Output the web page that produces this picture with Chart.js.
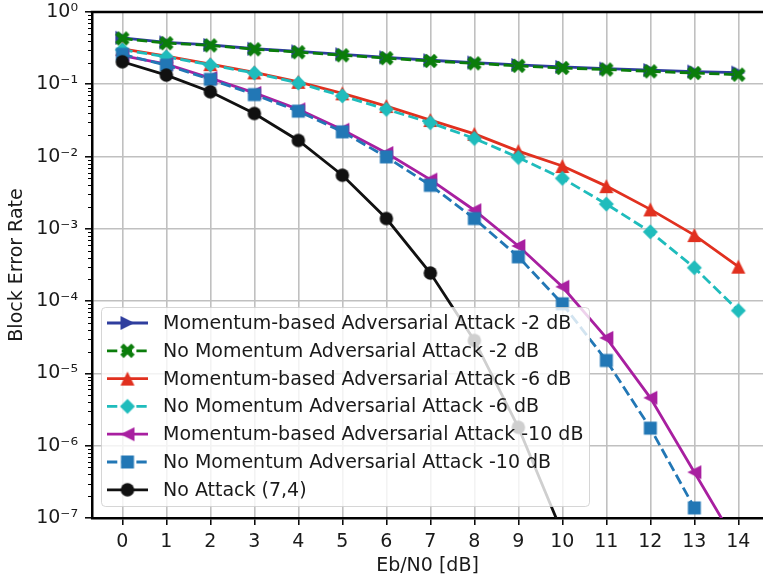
<!DOCTYPE html>
<html>
<head>
<meta charset="utf-8">
<script src="https://cdn.jsdelivr.net/npm/chart.js@4.4.1/dist/chart.umd.min.js"></script>
<style>
  html, body { margin: 0; padding: 0; background: #fff; }
  #wrap { width: 763px; height: 577px; }
</style>
</head>
<body>
<div id="wrap"><canvas id="berChart" width="763" height="577"></canvas></div>
<script>
// Eb/N0 values (dB)
const snrDb = [0, 1, 2, 3, 4, 5, 6, 7, 8, 9, 10, 11, 12, 13, 14];

// Block error rates
const momentum2dB = [0.44, 0.38, 0.35, 0.31, 0.285, 0.26, 0.236, 0.215, 0.2, 0.185, 0.174, 0.165, 0.157, 0.15, 0.145];
const noMomentum2dB = [0.43, 0.37, 0.345, 0.305, 0.278, 0.252, 0.23, 0.21, 0.195, 0.18, 0.168, 0.16, 0.151, 0.143, 0.136];
const momentum6dB = [0.31, 0.245, 0.19, 0.146, 0.108, 0.075, 0.05, 0.032, 0.0206, 0.0119, 0.0074, 0.0039, 0.00186, 0.00082, 0.0003];
const noMomentum6dB = [0.30, 0.24, 0.185, 0.143, 0.104, 0.069, 0.045, 0.0294, 0.0178, 0.0097, 0.005, 0.0022, 0.00091, 0.00029, 0.000074];
const momentum10dB = [0.25, 0.19, 0.122, 0.076, 0.045, 0.0235, 0.0112, 0.0048, 0.00181, 0.00058, 0.000158, 0.000031, 0.0000046, 0.00000043, 0.00000004];
const noMomentum10dB = [0.26, 0.184, 0.117, 0.072, 0.0425, 0.022, 0.0099, 0.004, 0.00139, 0.00041, 0.000092, 0.0000151, 0.00000175, 0.000000138, null];
const noAttack = [0.205, 0.134, 0.0787, 0.0395, 0.0167, 0.00552, 0.00139, 0.000245, 0.0000286, 0.0000018, 0.000000062, null, null, null, null];

const seriesLabels = [
    'Momentum-based Adversarial Attack -2 dB',
    'No Momentum Adversarial Attack -2 dB',
    'Momentum-based Adversarial Attack -6 dB',
    'No Momentum Adversarial Attack -6 dB',
    'Momentum-based Adversarial Attack -10 dB',
    'No Momentum Adversarial Attack -10 dB',
    'No Attack (7,4)'
];

// y tick exponents (10^0 ... 10^-7)
const yExponents = [0, -1, -2, -3, -4, -5, -6, -7];

const FONT = 'DejaVu Sans';
const FONT_SIZE = 19;
const TEXT = '#1a1a1a';
const SUP = { '0': '\u2070', '1': '\u00b9', '2': '\u00b2', '3': '\u00b3', '4': '\u2074', '5': '\u2075', '6': '\u2076', '7': '\u2077', '-': '\u207b' };

// build marker images like matplotlib's filled markers
function makeMarker(shape, color, size) {
    const c = document.createElement('canvas');
    c.width = 20;
    c.height = 20;
    const ctx = c.getContext('2d');
    ctx.translate(10, 10);
    ctx.fillStyle = color;
    ctx.beginPath();
    const h = size / 2;
    if (shape === 'circle') {
        ctx.arc(0, 0, h, 0, Math.PI * 2);
    } else if (shape === 'square') {
        ctx.rect(-h, -h, size, size);
    } else if (shape === 'diamond') {
        ctx.moveTo(0, -h); ctx.lineTo(h, 0); ctx.lineTo(0, h); ctx.lineTo(-h, 0);
    } else if (shape === 'up') {
        ctx.moveTo(0, -h); ctx.lineTo(h, h); ctx.lineTo(-h, h);
    } else if (shape === 'right') {
        ctx.moveTo(h, 0); ctx.lineTo(-h, -h); ctx.lineTo(-h, h);
    } else if (shape === 'left') {
        ctx.moveTo(-h, 0); ctx.lineTo(h, -h); ctx.lineTo(h, h);
    } else if (shape === 'x') {
        const a = 2.4, L = 7.8;
        const pts = [[a, L], [a, a], [L, a], [L, -a], [a, -a], [a, -L], [-a, -L], [-a, -a], [-L, -a], [-L, a], [-a, a], [-a, L]];
        const k = Math.SQRT1_2;
        pts.forEach(function(p, i) {
            const x = (p[0] - p[1]) * k, y = (p[0] + p[1]) * k;
            if (i === 0) ctx.moveTo(x, y); else ctx.lineTo(x, y);
        });
    }
    ctx.closePath();
    ctx.fill();
    return c;
}

const styles = [
    { color: '#2f3e9e', marker: makeMarker('right', '#2f3e9e', 14), dashed: false },
    { color: '#0b7d0b', marker: makeMarker('x', '#0b7d0b', 15), dashed: true },
    { color: '#e1301f', marker: makeMarker('up', '#e1301f', 14), dashed: false },
    { color: '#1fbcbc', marker: makeMarker('diamond', '#1fbcbc', 15), dashed: true },
    { color: '#a81fa0', marker: makeMarker('left', '#a81fa0', 14), dashed: false },
    { color: '#2277b5', marker: makeMarker('square', '#2277b5', 13), dashed: true },
    { color: '#111111', marker: makeMarker('circle', '#111111', 13.5), dashed: false }
];

const allSeries = [momentum2dB, noMomentum2dB, momentum6dB, noMomentum6dB, momentum10dB, noMomentum10dB, noAttack];

const datasets = allSeries.map(function(values, i) {
    const s = styles[i];
    return {
        label: seriesLabels[i],
        data: snrDb.map(function(x, j) { return { x: x, y: values[j] }; }),
        borderColor: s.color,
        backgroundColor: s.color,
        borderWidth: 2.8,
        borderDash: s.dashed ? [10.3, 4.4] : [],
        pointStyle: s.marker,
        pointRadius: 7,
        pointHoverRadius: 7,
        tension: 0,
        spanGaps: false,
        order: allSeries.length - i
    };
});

// top spine, minor y ticks and a matplotlib-like legend drawn over the lines
const overlayPlugin = {
    id: 'overlay',
    afterDatasetsDraw(chart) {
        const ctx = chart.ctx;
        const area = chart.chartArea;
        const yScale = chart.scales.y;

        ctx.save();
        ctx.strokeStyle = '#000';
        ctx.lineWidth = 2.5;
        ctx.beginPath();
        ctx.moveTo(area.left - 1.25, area.top);
        ctx.lineTo(area.right, area.top);
        ctx.stroke();

        // minor ticks
        ctx.lineWidth = 1.2;
        ctx.beginPath();
        for (let e = -7; e < 0; e++) {
            for (let m = 2; m <= 9; m++) {
                const y = Math.round(yScale.getPixelForValue(m * Math.pow(10, e))) + 0.5;
                ctx.moveTo(area.left - 4, y);
                ctx.lineTo(area.left, y);
            }
        }
        ctx.stroke();

        // legend box
        const bx = 101.5, by = 307.5, bw = 488, bh = 199, r = 4;
        ctx.beginPath();
        ctx.moveTo(bx + r, by);
        ctx.lineTo(bx + bw - r, by);
        ctx.quadraticCurveTo(bx + bw, by, bx + bw, by + r);
        ctx.lineTo(bx + bw, by + bh - r);
        ctx.quadraticCurveTo(bx + bw, by + bh, bx + bw - r, by + bh);
        ctx.lineTo(bx + r, by + bh);
        ctx.quadraticCurveTo(bx, by + bh, bx, by + bh - r);
        ctx.lineTo(bx, by + r);
        ctx.quadraticCurveTo(bx, by, bx + r, by);
        ctx.closePath();
        ctx.fillStyle = 'rgba(255,255,255,0.8)';
        ctx.fill();
        ctx.strokeStyle = 'rgba(204,204,204,0.8)';
        ctx.lineWidth = 1;
        ctx.stroke();

        ctx.font = FONT_SIZE + 'px "' + FONT + '"';
        ctx.textBaseline = 'middle';
        ctx.textAlign = 'left';
        chart.data.datasets.forEach(function(ds, i) {
            const y = 323 + i * 27.8;
            ctx.strokeStyle = ds.borderColor;
            ctx.lineWidth = ds.borderWidth;
            ctx.setLineDash(ds.borderDash);
            ctx.beginPath();
            ctx.moveTo(107, y);
            ctx.lineTo(148, y);
            ctx.stroke();
            ctx.setLineDash([]);
            ctx.drawImage(ds.pointStyle, 127.5 - 10, y - 10);
            ctx.fillStyle = TEXT;
            ctx.fillText(ds.label, 163, y + 1);
        });
        ctx.restore();
    }
};

Chart.defaults.font.family = FONT;
Chart.defaults.font.size = FONT_SIZE;
Chart.defaults.color = TEXT;

new Chart(document.getElementById('berChart'), {
    type: 'line',
    data: { datasets: datasets },
    options: {
        responsive: false,
        devicePixelRatio: 1,
        animation: false,
        events: [],
        layout: { autoPadding: false, padding: { top: 12, right: 0, left: 0, bottom: 0 } },
        plugins: {
            legend: { display: false },
            tooltip: { enabled: false }
        },
        scales: {
            x: {
                type: 'linear',
                min: -0.69,
                max: 14.56,
                afterBuildTicks: function(scale) {
                    scale.ticks = snrDb.map(function(v) { return { value: v }; });
                },
                afterFit: function(scale) {
                    scale.height = 59;
                    scale.paddingLeft = 0;
                    scale.paddingRight = 0;
                },
                ticks: {
                    padding: 6,
                    maxRotation: 0,
                    autoSkip: false,
                    callback: function(v) { return String(v); }
                },
                grid: { color: '#c0c0c0', lineWidth: 1.6, tickColor: '#000', tickLength: 7, tickWidth: 1.5 },
                border: { display: true, color: '#000', width: 2.5 },
                title: { display: true, text: 'Eb/N0 [dB]', padding: { top: 0, bottom: 0 } }
            },
            y: {
                type: 'logarithmic',
                min: 1e-7,
                max: 1,
                afterBuildTicks: function(scale) {
                    scale.ticks = yExponents.map(function(e) { return { value: Math.pow(10, e) }; });
                },
                afterFit: function(scale) {
                    scale.width = 92;
                    scale.paddingTop = 0;
                    scale.paddingBottom = 0;
                },
                ticks: {
                    padding: 7,
                    autoSkip: false,
                    callback: function(v) {
                        const e = String(Math.round(Math.log10(v)));
                        return '10' + e.split('').map(function(ch) { return SUP[ch]; }).join('');
                    }
                },
                grid: { color: '#c0c0c0', lineWidth: 1.6, tickColor: '#000', tickLength: 7, tickWidth: 1.5 },
                border: { display: true, color: '#000', width: 2.5 },
                title: { display: true, text: 'Block Error Rate', padding: { top: 6, bottom: 0 } }
            }
        }
    },
    plugins: [overlayPlugin]
});
</script>
</body>
</html>
